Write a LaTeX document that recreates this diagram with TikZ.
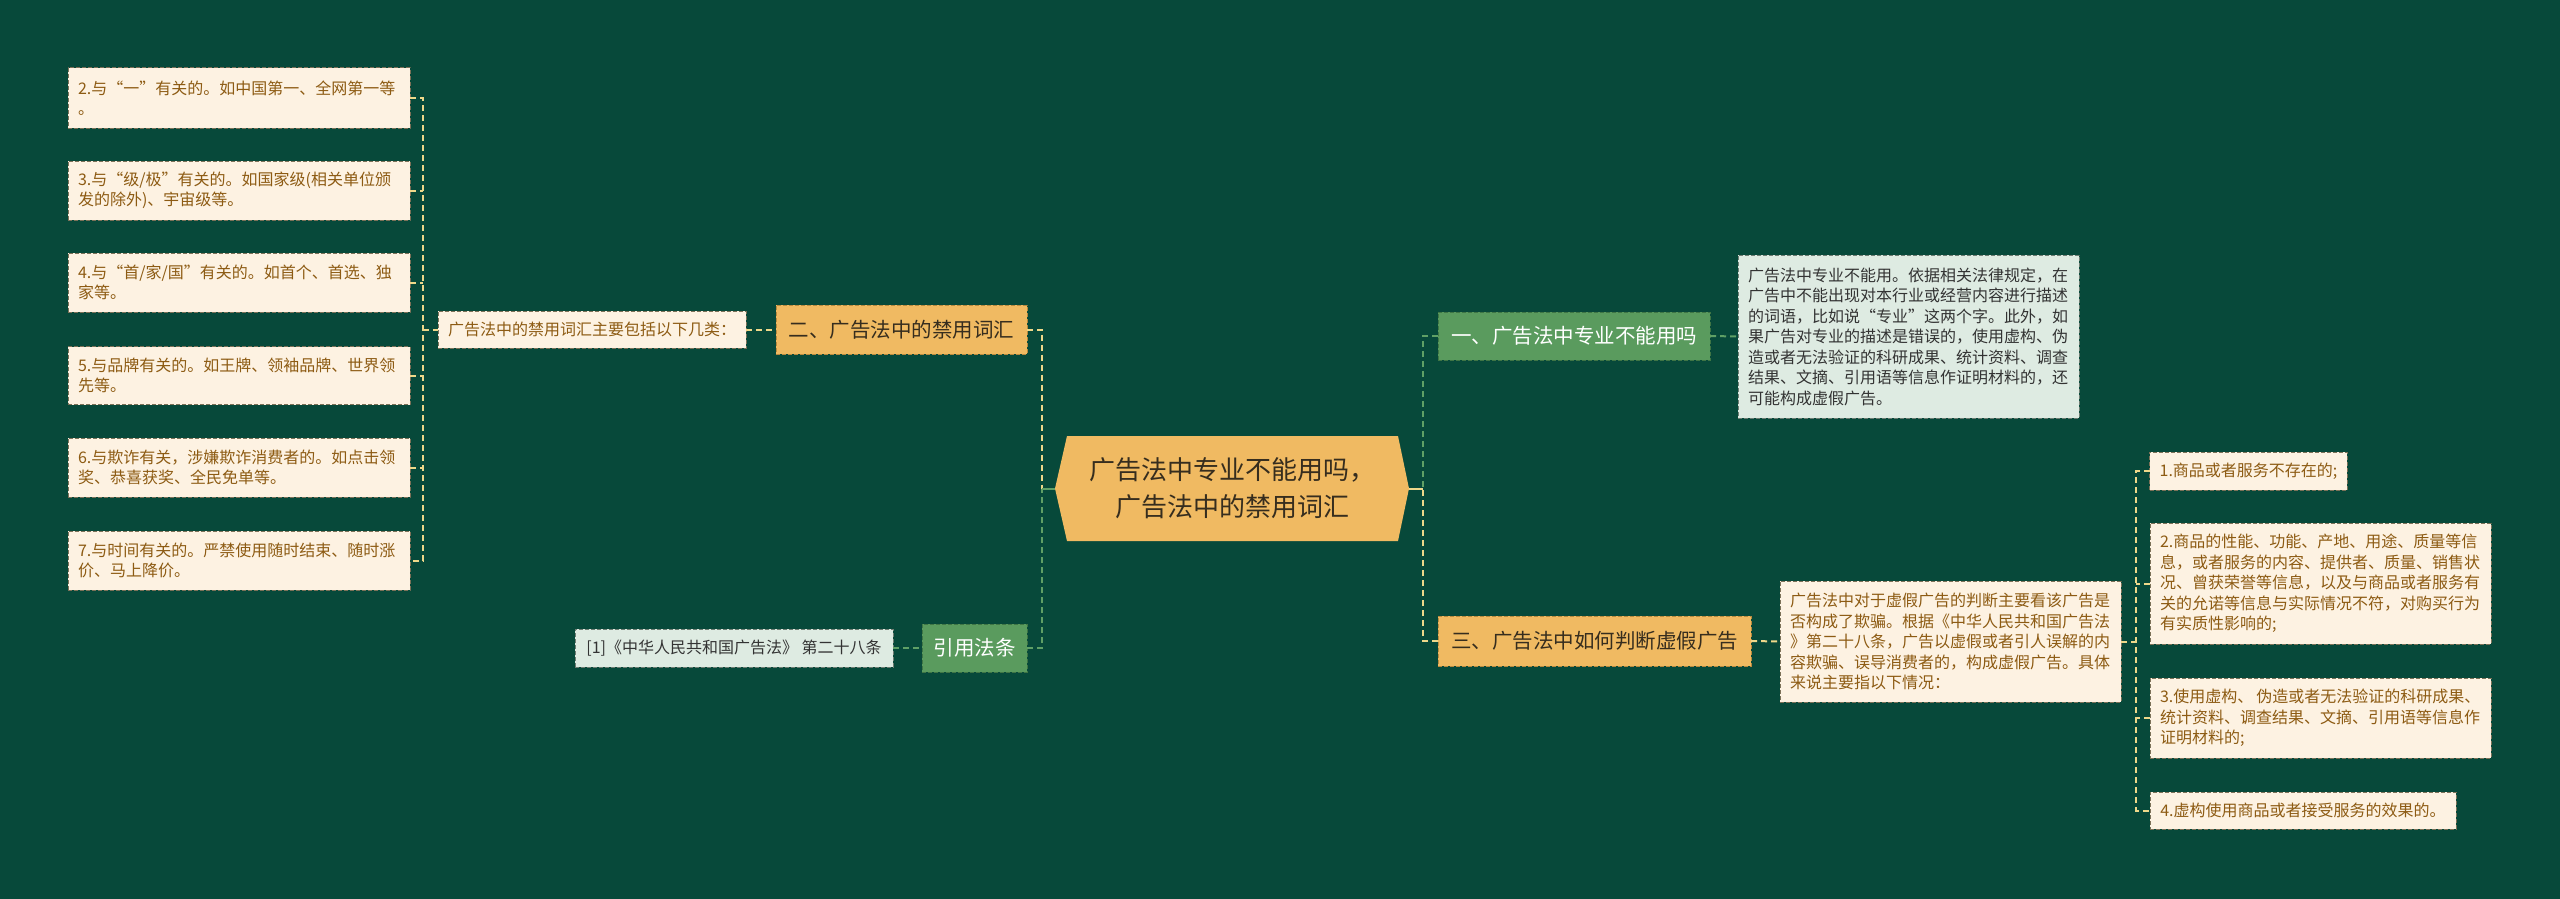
\documentclass[tikz,border=0pt]{standalone}
\usepackage{fontspec}
\setmainfont{Noto Sans CJK SC}
\usetikzlibrary{calc,backgrounds}
\definecolor{bgc}{HTML}{07493A}
\definecolor{ofill}{HTML}{F0BA62}
\definecolor{oborder}{HTML}{B8893E}
\definecolor{gfill}{HTML}{5A9B5E}
\definecolor{gborder}{HTML}{3F7545}
\definecolor{cream}{HTML}{FDF2E2}
\definecolor{creamb}{HTML}{7C7158}
\definecolor{dfill}{HTML}{DEEBE2}
\definecolor{dborder}{HTML}{6E7C72}
\definecolor{browntext}{HTML}{8D5B13}
\definecolor{darktext}{HTML}{362D1E}
\definecolor{graytext}{HTML}{333333}
\definecolor{ylw}{HTML}{EED88A}
\definecolor{gline}{HTML}{5FA066}
\tikzset{
  box/.style={dash pattern=on 4pt off 2pt, line width=1pt, inner ysep=0pt, inner xsep=10pt, outer sep=0pt},
  leaf/.style={box, draw=creamb, fill=cream, text=browntext, font=\fontsize{16}{20.5}\selectfont, align=left, text width=#1},
  leaf/.default=322,
  leafone/.style={box, draw=creamb, fill=cream, text=browntext, font=\fontsize{16}{20.5}\selectfont},
  dleaf/.style={box, draw=dborder, fill=dfill, text=graytext, font=\fontsize{16}{20.5}\selectfont, align=left, text width=#1},
  dleaf/.default=321,
  dbox/.style={box, draw=dborder, fill=dfill, text=graytext, font=\fontsize{16}{20.5}\selectfont},
  obox/.style={box, draw=oborder, fill=ofill, text=darktext, font=\fontsize{20.5}{24}\selectfont},
  gbox/.style={box, draw=gborder, fill=gfill, text=white, font=\fontsize{20.5}{24}\selectfont},
  ycon/.style={draw=ylw, line width=2pt, dash pattern=on 6pt off 4pt},
  gcon/.style={draw=gline, line width=2pt, dash pattern=on 6pt off 4pt},
  ysolid/.style={draw=ylw, line width=2pt},
  gsolid/.style={draw=gline, line width=2pt},
}
\begin{document}
\begin{tikzpicture}[x=1pt,y=-1pt]
\useasboundingbox (0,0) rectangle (2560,899);

% left leaves
\node[leaf, minimum height=60] (L2) at (239,98) {2.与“一”有关的。如中国第一、全网第一等\\。};
\node[leaf, minimum height=59] (L3) at (239,190.5) {3.与“级/极”有关的。如国家级(相关单位颁\\发的除外)、宇宙级等。};
\node[leaf, minimum height=59] (L4) at (239,282.5) {4.与“首/家/国”有关的。如首个、首选、独\\家等。};
\node[leaf, minimum height=58] (L5) at (239,375.5) {5.与品牌有关的。如王牌、领袖品牌、世界领\\先等。};
\node[leaf, minimum height=59] (L6) at (239,467.5) {6.与欺诈有关，涉嫌欺诈消费者的。如点击领\\奖、恭喜获奖、全民免单等。};
\node[leaf, minimum height=59] (L7) at (239,560.5) {7.与时间有关的。严禁使用随时结束、随时涨\\价、马上降价。};

\node[leafone, minimum width=308, minimum height=37] (M) at (592,329.5) {广告法中的禁用词汇主要包括以下几类：};
\node[obox, minimum width=251, minimum height=49] (B2) at (901.5,329.5) {二、广告法中的禁用词汇};
\node[gbox, minimum width=105, minimum height=48] (R) at (974.5,648) {引用法条};
\node[dbox, minimum width=318, minimum height=38] (Ref) at (734,648) {[1]《中华人民共和国广告法》 第二十八条};

% center
\node[minimum width=354, minimum height=105, inner sep=0pt, outer sep=0pt, font=\fontsize{26}{36.7}\selectfont, text=darktext, align=center] (C) at (1232,488.5) {广告法中专业不能用吗，\\广告法中的禁用词汇};

% right side
\node[gbox, minimum width=272, minimum height=48] (A1) at (1574,336) {一、广告法中专业不能用吗};
\node[dleaf, minimum height=163] (D1) at (1908.5,336.5) {广告法中专业不能用。依据相关法律规定，在\\广告中不能出现对本行业或经营内容进行描述\\的词语，比如说“专业”这两个字。此外，如\\果广告对专业的描述是错误的，使用虚构、伪\\造或者无法验证的科研成果、统计资料、调查\\结果、文摘、引用语等信息作证明材料的，还\\可能构成虚假广告。};
\node[obox, minimum width=313, minimum height=50] (A3) at (1594.5,641) {三、广告法中如何判断虚假广告};
\node[leaf=321, minimum height=121] (D3) at (1950.5,641.5) {广告法中对于虚假广告的判断主要看该广告是\\否构成了欺骗。根据《中华人民共和国广告法\\》第二十八条，广告以虚假或者引人误解的内\\容欺骗、误导消费者的，构成虚假广告。具体\\来说主要指以下情况：};

\node[leafone, minimum width=197, minimum height=38] (R1) at (2248.5,471) {1.商品或者服务不存在的;};
\node[leaf=321, minimum height=121] (R2) at (2320.5,583.5) {2.商品的性能、功能、产地、用途、质量等信\\息，或者服务的内容、提供者、质量、销售状\\况、曾获荣誉等信息，以及与商品或者服务有\\关的允诺等信息与实际情况不符，对购买行为\\有实质性影响的;};
\node[leaf=321, minimum height=80] (R3) at (2320.5,718) {\mbox{3.使用虚构、\hspace{3pt}伪造或者无法验证的科研成果、}\\统计资料、调查结果、文摘、引用语等信息作\\证明材料的;};
\node[leafone, minimum width=306, minimum height=37] (R4) at (2303,810.5) {4.虚构使用商品或者接受服务的效果的。};

% connectors left
\coordinate (lv) at ($(M.west)+(-15,0)$);
\draw[ycon] (lv) -- (M.west);
\draw[ycon] (L2.east) -| (lv) |- (L7.east);
\draw[ycon] (L3.east) -- (L3.east -| lv);
\draw[ycon] (L4.east) -- (L4.east -| lv);
\draw[ycon] (L5.east) -- (L5.east -| lv);
\draw[ycon] (L6.east) -- (L6.east -| lv);
\draw[ycon] (M.east) -- (B2.west);
\draw[gcon] (Ref.east) -- (R.west);

\coordinate (lt) at ($(C.west)+(-13,0)$);
\draw[ycon] (B2.east) -| (lt);
\draw[gcon] (R.east) -| (lt);
\draw[gsolid] (lt) -- (C.west);

% connectors right
\coordinate (rt) at ($(C.east)+(14,0)$);
\draw[gcon] (A1.west) -| (rt);
\draw[ycon] (A3.west) -| (rt);
\draw[ysolid] (C.east) -- (rt);
\draw[gcon] (A1.east) -- (D1.west);
\draw[ycon] (A3.east) -- (D3.west);

\coordinate (rv) at ($(D3.east)+(15,0)$);
\draw[ycon] (D3.east) -- (rv);
\draw[ycon] (R1.west) -| (rv) |- (R4.west);
\draw[ycon] (R2.west) -- (R2.west -| rv);
\draw[ycon] (R3.west) -- (R3.west -| rv);

\begin{scope}[on background layer]
\fill[bgc] (0,0) rectangle (2560,899);
\fill[ofill] ($(C.north west)+(12,0)$) -- ($(C.north east)+(-11,0)$) -- (C.east) -- ($(C.south east)+(-11,0)$) -- ($(C.south west)+(12,0)$) -- (C.west) -- cycle;
\end{scope}
\end{tikzpicture}
\end{document}
